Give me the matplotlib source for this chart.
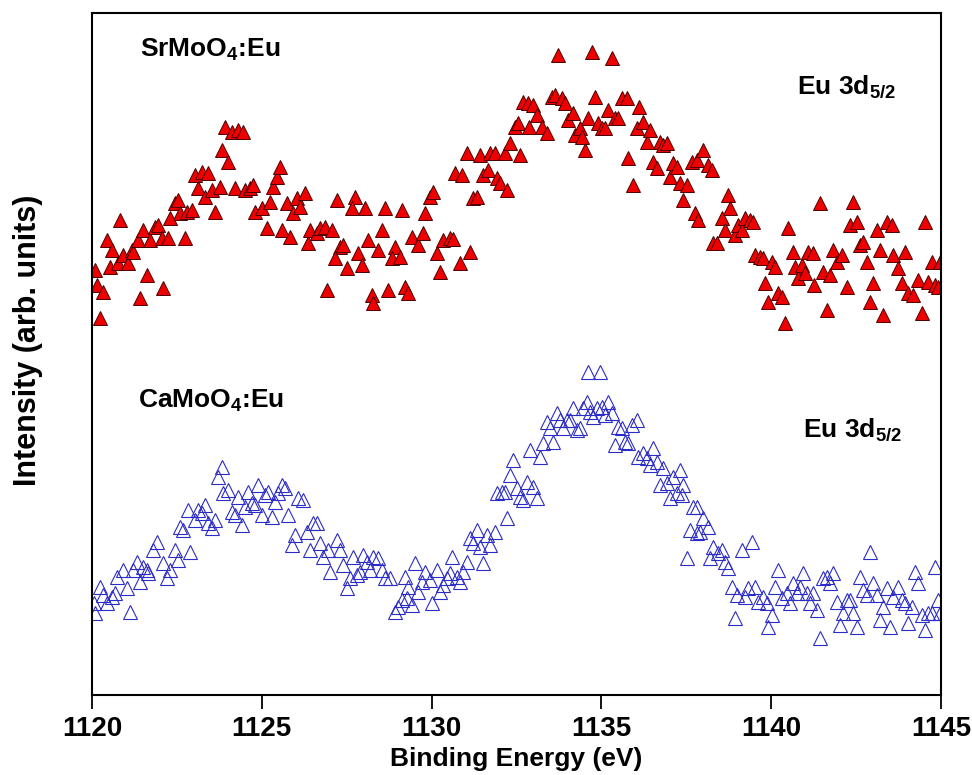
import numpy as np
from matplotlib import pyplot as plt
from matplotlib import font_manager

# SrMoO4:Eu - binding energy (eV) and intensity (arb. units)
sr_energy = [
    1120.09, 1120.15, 1120.32, 1120.24, 1120.44, 1120.59, 1120.53, 1120.82, 1120.77, 1120.91,
    1121.06, 1121.18, 1121.21, 1121.41, 1121.62, 1121.35, 1121.50, 1121.71, 1121.86, 1121.94,
    1122.06, 1122.09, 1122.24, 1122.30, 1122.44, 1122.53, 1122.59, 1122.80, 1122.95, 1122.74,
    1123.03, 1123.24, 1123.42, 1123.12, 1123.33, 1123.53, 1123.77, 1123.62, 1123.83, 1124.01,
    1123.92, 1124.12, 1124.30, 1124.45, 1124.21, 1124.51, 1124.65, 1124.74, 1124.80, 1125.01,
    1125.15, 1125.24, 1125.33, 1125.45, 1125.54, 1125.60, 1125.74, 1125.83, 1125.92, 1126.04,
    1126.13, 1126.27, 1126.36, 1126.42, 1126.63, 1126.71, 1126.86, 1127.07, 1126.92, 1127.22,
    1127.30, 1127.16, 1127.51, 1127.39, 1127.75, 1127.66, 1127.83, 1127.95, 1128.04, 1128.13,
    1128.25, 1128.28, 1128.42, 1128.54, 1128.63, 1128.72, 1128.92, 1128.83, 1129.07, 1129.13,
    1129.22, 1129.31, 1129.42, 1129.60, 1129.75, 1129.81, 1129.95, 1130.04, 1130.16, 1130.25,
    1130.34, 1130.54, 1130.63, 1130.84, 1131.13, 1130.69, 1130.90, 1131.04, 1131.22, 1131.34,
    1131.43, 1131.51, 1131.66, 1131.72, 1131.87, 1131.93, 1132.02, 1132.16, 1132.22, 1132.31,
    1132.46, 1132.55, 1132.60, 1132.69, 1132.84, 1132.86, 1132.99, 1133.11, 1133.25, 1133.40,
    1133.55, 1133.64, 1133.72, 1133.84, 1133.93, 1134.02, 1134.17, 1134.22, 1134.37, 1134.43,
    1134.52, 1134.61, 1134.73, 1134.81, 1134.90, 1135.02, 1135.11, 1135.20, 1135.31, 1135.40,
    1135.49, 1135.61, 1135.76, 1135.79, 1135.93, 1136.05, 1136.11, 1136.23, 1136.34, 1136.43,
    1136.52, 1136.64, 1136.73, 1136.82, 1136.93, 1137.02, 1137.11, 1137.23, 1137.32, 1137.40,
    1137.52, 1137.67, 1137.76, 1137.82, 1137.85, 1137.99, 1138.14, 1138.26, 1138.29, 1138.41,
    1138.55, 1138.64, 1138.73, 1138.79, 1138.94, 1139.02, 1139.14, 1139.23, 1139.38, 1139.47,
    1139.53, 1139.67, 1139.76, 1139.82, 1139.91, 1140.03, 1140.11, 1140.20, 1140.32, 1140.41,
    1140.50, 1140.64, 1140.70, 1140.79, 1140.91, 1141.00, 1141.09, 1141.23, 1141.25, 1141.44,
    1141.53, 1141.65, 1141.73, 1141.82, 1141.94, 1142.09, 1142.23, 1142.32, 1142.41, 1142.53,
    1142.62, 1142.71, 1142.82, 1142.91, 1143.00, 1143.12, 1143.21, 1143.29, 1143.41, 1143.56,
    1143.59, 1143.74, 1143.85, 1143.94, 1144.03, 1144.18, 1144.33, 1144.44, 1144.53, 1144.62,
    1144.74, 1144.83, 1144.91, 1144.97,
]
sr_intensity = [
    425, 410, 403, 377, 455, 445, 428, 475, 432, 440,
    432, 445, 443, 397, 420, 455, 465, 455, 468, 470,
    457, 407, 457, 477, 492, 495, 482, 483, 485, 457,
    520, 523, 522, 507, 498, 505, 508, 483, 545, 533,
    568, 563, 565, 563, 507, 505, 507, 510, 483, 487,
    467, 493, 508, 518, 528, 465, 492, 458, 482, 497,
    488, 502, 452, 465, 462, 467, 468, 465, 405, 495,
    448, 437, 427, 450, 498, 487, 442, 430, 487, 455,
    400, 392, 445, 465, 487, 405, 448, 437, 438, 485,
    408, 402, 458, 450, 462, 482, 498, 503, 442, 423,
    455, 457, 456, 432, 443, 522, 520, 542, 497, 498,
    540, 520, 525, 542, 542, 517, 512, 542, 505, 552,
    568, 572, 540, 593, 592, 568, 590, 580, 568, 562,
    598, 600, 640, 597, 592, 575, 582, 560, 567, 558,
    545, 577, 643, 598, 572, 567, 567, 585, 637, 577,
    577, 597, 597, 537, 510, 567, 588, 573, 553, 565,
    533, 527, 553, 550, 552, 518, 532, 528, 512, 495,
    510, 533, 482, 535, 475, 545, 530, 525, 452, 452,
    477, 465, 500, 487, 460, 470, 465, 477, 475, 473,
    440, 438, 437, 412, 393, 433, 428, 402, 398, 372,
    467, 443, 428, 417, 430, 422, 443, 442, 410, 492,
    423, 385, 420, 445, 433, 440, 408, 470, 493, 473,
    450, 453, 433, 393, 412, 465, 445, 380, 473, 470,
    440, 427, 412, 443, 402, 400, 415, 382, 473, 413,
    433, 410, 408, 433,
]

# CaMoO4:Eu - binding energy (eV) and intensity (arb. units)
ca_energy = [
    1120.09, 1120.06, 1120.24, 1120.32, 1120.44, 1120.59, 1120.68, 1120.74, 1120.91, 1121.03,
    1121.12, 1121.21, 1121.33, 1121.41, 1121.50, 1121.62, 1121.65, 1121.80, 1121.91, 1122.09,
    1122.21, 1122.30, 1122.44, 1122.53, 1122.59, 1122.68, 1122.83, 1122.89, 1123.03, 1123.12,
    1123.24, 1123.33, 1123.42, 1123.53, 1123.62, 1123.71, 1123.83, 1123.86, 1124.01, 1124.12,
    1124.21, 1124.30, 1124.42, 1124.51, 1124.59, 1124.71, 1124.80, 1124.89, 1125.01, 1125.09,
    1125.18, 1125.30, 1125.39, 1125.48, 1125.60, 1125.68, 1125.77, 1125.89, 1125.98, 1126.07,
    1126.21, 1126.33, 1126.42, 1126.51, 1126.63, 1126.71, 1126.80, 1126.95, 1127.01, 1127.22,
    1127.30, 1127.39, 1127.51, 1127.60, 1127.69, 1127.80, 1127.89, 1127.98, 1128.10, 1128.19,
    1128.28, 1128.42, 1128.54, 1128.63, 1128.78, 1128.92, 1129.01, 1129.13, 1129.22, 1129.31,
    1129.28, 1129.42, 1129.51, 1129.60, 1129.72, 1129.81, 1129.95, 1130.01, 1130.16, 1130.25,
    1130.34, 1130.45, 1130.54, 1130.60, 1130.75, 1130.84, 1130.93, 1131.04, 1131.13, 1131.22,
    1131.34, 1131.43, 1131.51, 1131.63, 1131.72, 1131.87, 1131.93, 1132.07, 1132.16, 1132.22,
    1132.31, 1132.40, 1132.52, 1132.60, 1132.69, 1132.81, 1132.90, 1132.99, 1133.11, 1133.19,
    1133.28, 1133.40, 1133.49, 1133.58, 1133.69, 1133.78, 1133.87, 1133.99, 1134.08, 1134.17,
    1134.28, 1134.37, 1134.46, 1134.58, 1134.61, 1134.67, 1134.75, 1134.87, 1134.96, 1135.02,
    1135.11, 1135.20, 1135.31, 1135.40, 1135.49, 1135.61, 1135.70, 1135.79, 1135.90, 1136.05,
    1136.08, 1136.23, 1136.34, 1136.43, 1136.52, 1136.64, 1136.73, 1136.82, 1136.93, 1137.02,
    1137.11, 1137.23, 1137.32, 1137.40, 1137.52, 1137.61, 1137.70, 1137.82, 1137.36, 1137.80,
    1137.91, 1137.99, 1138.14, 1138.20, 1138.29, 1138.44, 1138.55, 1138.64, 1138.73, 1138.85,
    1138.94, 1138.99, 1139.14, 1139.23, 1139.32, 1139.44, 1139.53, 1139.61, 1139.76, 1139.88,
    1139.91, 1140.03, 1140.11, 1140.20, 1140.32, 1140.47, 1140.56, 1140.64, 1140.76, 1140.85,
    1140.94, 1141.06, 1141.15, 1141.23, 1141.35, 1141.44, 1141.53, 1141.65, 1141.73, 1141.82,
    1141.94, 1142.03, 1142.12, 1142.23, 1142.32, 1142.41, 1142.53, 1142.62, 1142.71, 1142.82,
    1142.91, 1143.00, 1143.12, 1143.21, 1143.29, 1143.41, 1143.50, 1143.59, 1143.74, 1143.85,
    1143.94, 1144.03, 1144.15, 1144.24, 1144.33, 1144.44, 1144.53, 1144.62, 1144.74, 1144.83,
    1144.91, 1144.97,
]
ca_intensity = [
    82, 92, 108, 100, 92, 98, 102, 118, 125, 107,
    83, 125, 133, 113, 128, 125, 122, 145, 153, 132,
    117, 125, 145, 135, 168, 165, 185, 143, 175, 185,
    182, 190, 172, 167, 175, 218, 228, 202, 205, 183,
    180, 198, 170, 188, 203, 192, 190, 210, 180, 200,
    203, 178, 193, 202, 210, 207, 180, 150, 160, 197,
    195, 163, 145, 172, 172, 152, 138, 145, 123, 155,
    145, 130, 107, 117, 138, 120, 123, 140, 133, 125,
    138, 137, 125, 117, 117, 83, 88, 95, 118, 108,
    97, 90, 132, 103, 113, 123, 115, 92, 125, 103,
    110, 117, 122, 138, 118, 113, 123, 133, 157, 152,
    165, 148, 132, 160, 150, 163, 202, 203, 203, 177,
    220, 235, 207, 198, 195, 213, 245, 208, 197, 238,
    252, 273, 267, 253, 282, 275, 267, 275, 275, 287,
    265, 267, 287, 293, 323, 283, 278, 287, 323, 288,
    280, 293, 282, 250, 268, 267, 253, 252, 270, 275,
    238, 242, 237, 230, 247, 233, 210, 227, 212, 197,
    218, 202, 225, 210, 137, 165, 188, 162, 200, 188,
    163, 177, 168, 137, 148, 142, 145, 133, 127, 108,
    77, 100, 145, 98, 107, 153, 108, 93, 98, 92,
    68, 80, 108, 125, 97, 102, 92, 112, 102, 108,
    122, 102, 92, 102, 85, 57, 117, 118, 112, 122,
    93, 70, 82, 95, 95, 82, 68, 118, 105, 100,
    143, 112, 100, 75, 88, 107, 68, 98, 108, 95,
    92, 72, 88, 123, 112, 80, 65, 82, 82, 128,
    95, 82,
]

x_ticks = [1120, 1125, 1130, 1135, 1140, 1145]

names = {f.name for f in font_manager.fontManager.ttflist}
body = 'Liberation Sans' if 'Liberation Sans' in names else 'DejaVu Sans'
narrow = 'Liberation Sans Narrow' if 'Liberation Sans Narrow' in names else body

plt.rcParams['font.family'] = body
plt.rcParams['mathtext.fontset'] = 'custom'
plt.rcParams['mathtext.rm'] = body
plt.rcParams['mathtext.bf'] = body + ':bold'

fig = plt.figure(figsize=(9.72, 7.75), dpi=100)
ax = fig.add_axes([0.0947, 0.1032, 0.8735, 0.8804])

ax.plot(sr_energy, sr_intensity, linestyle='none', marker='^', markersize=9.5,
        markerfacecolor='#ee0000', markeredgecolor='#4a0000', markeredgewidth=0.7)
ax.plot(ca_energy, ca_intensity, linestyle='none', marker='^', markersize=9.5,
        markerfacecolor='none', markeredgecolor='#2b2bc8', markeredgewidth=0.8)

ax.set_xlim(1120, 1145)
ax.set_ylim(0, 682)
ax.set_xticks(x_ticks)
ax.set_xticklabels([str(t) for t in x_ticks], family=narrow, fontweight='bold', fontsize=20)
ax.set_yticks([])
ax.tick_params(axis='x', direction='out', length=10, width=1.3, pad=5)
for s in ax.spines.values():
    s.set_linewidth(1.5)

ax.set_xlabel('Binding Energy (eV)', family=narrow, fontweight='bold', fontsize=19, labelpad=4)
ax.set_ylabel('Intensity (arb. units)', fontweight='bold', fontsize=22)
ax.yaxis.set_label_coords(-0.058, 0.52)

ax.text(1121.41, 645, r'SrMoO$_\mathbf{4}$:Eu', fontsize=19, fontweight='bold', va='center')
ax.text(1140.76, 608, r'Eu 3d$_\mathbf{5/2}$', fontsize=19, fontweight='bold', va='center')
ax.text(1121.35, 294, r'CaMoO$_\mathbf{4}$:Eu', fontsize=19, fontweight='bold', va='center')
ax.text(1140.94, 265, r'Eu 3d$_\mathbf{5/2}$', fontsize=19, fontweight='bold', va='center')

plt.savefig('out.png', dpi=100)
